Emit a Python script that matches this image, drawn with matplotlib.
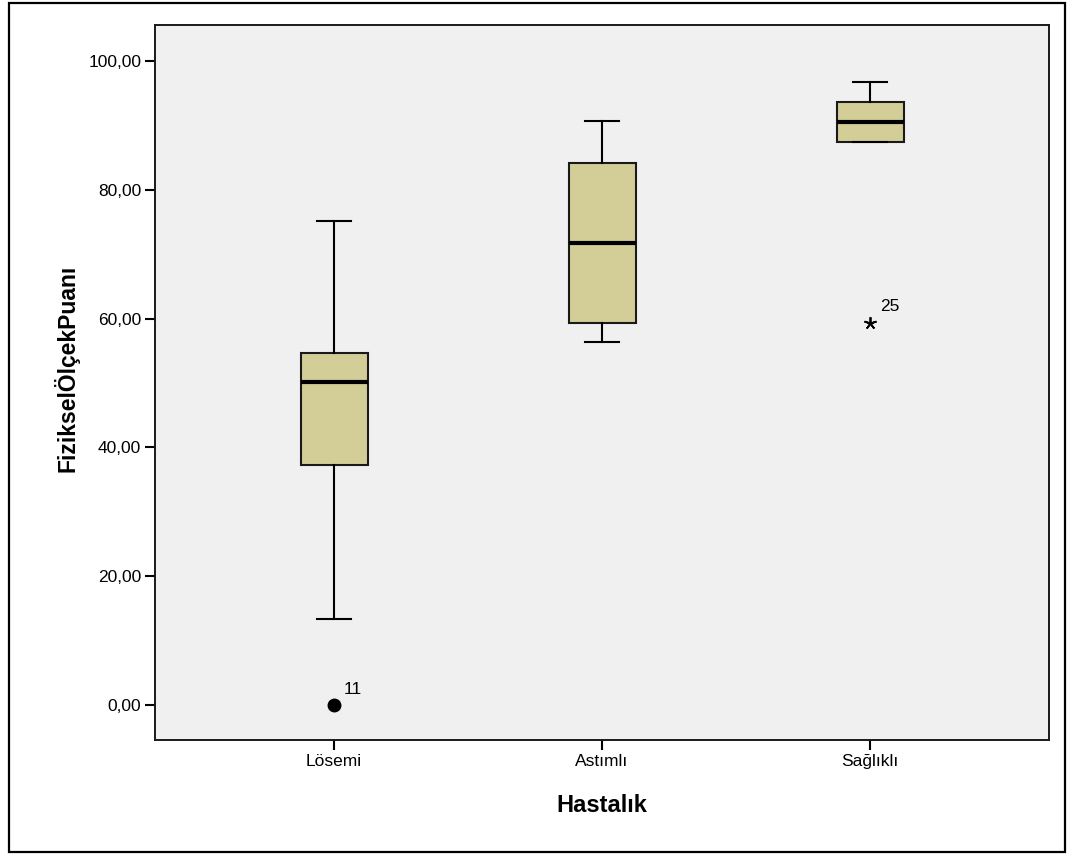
import matplotlib
matplotlib.use("Agg")
from matplotlib import pyplot as plt
from matplotlib.patches import Rectangle

plt.rcParams['font.family'] = ['Liberation Sans', 'DejaVu Sans']

# Box summaries.
groups = ['Lösemi', 'Astımlı', 'Sağlıklı']
whis_low = [13.4, 56.3, 87.5]
q1 = [37.2, 59.4, 87.5]
median = [50.1, 71.8, 90.6]
q3 = [54.7, 84.1, 93.7]
whis_high = [75.1, 90.7, 96.8]

# Outliers: group index, value, case number, marker.
out_group = [0, 2]
out_value = [0.0, 59.4]
out_label = ['11', '25']
out_marker = ['o', (5, 2, 0)]

yticks = [0, 20, 40, 60, 80, 100]

fig = plt.figure(figsize=(10.7, 8.57), dpi=100)
fig.patches.append(Rectangle((0.008, 0.006), 0.987, 0.99, transform=fig.transFigure,
                             fill=False, edgecolor='black', linewidth=1.6))
ax = fig.add_axes([0.1449, 0.1365, 0.8355, 0.8343])
ax.set_facecolor('#F0F0F0')

stats = []
for i, g in enumerate(groups):
    stats.append({'label': g, 'whislo': whis_low[i], 'q1': q1[i], 'med': median[i],
                  'q3': q3[i], 'whishi': whis_high[i], 'fliers': []})

ax.bxp(stats, positions=[1, 2, 3], widths=0.25, capwidths=0.125, patch_artist=True,
       showfliers=False,
       boxprops=dict(facecolor='#D3CE98', edgecolor='#1a1a1a', linewidth=1.5),
       medianprops=dict(color='black', linewidth=3.0),
       whiskerprops=dict(color='black', linewidth=1.5),
       capprops=dict(color='black', linewidth=1.5))

for g, v, lab, m in zip(out_group, out_value, out_label, out_marker):
    x = g + 1
    if m == 'o':
        ax.plot(x, v, marker=m, color='black', markersize=9, linestyle='none')
    else:
        ax.plot(x, v, marker=m, color='black', markersize=9, markeredgewidth=1.3,
                linestyle='none')
    ax.annotate(lab, (x, v), xytext=(7, 6), textcoords='offset points',
                fontsize=12.5, ha='left', va='bottom')

ax.set_xlim(0.332, 3.668)
ax.set_ylim(-5.43, 105.6)
ax.set_xticks([1, 2, 3])
ax.set_xticklabels(groups)
ax.set_yticks(yticks)
ax.set_yticklabels([f'{t},00' for t in yticks])
ax.tick_params(axis='both', direction='out', length=7, width=1.5, labelsize=12.5, pad=3)

for s in ax.spines.values():
    s.set_linewidth(1.4)
    s.set_color('#1a1a1a')

ax.set_xlabel('Hastalık', fontsize=17, fontweight='bold', labelpad=18)
ax.set_ylabel('FizikselÖlçekPuanı', fontsize=16.5, fontweight='bold')
ax.yaxis.set_label_coords(-0.085, 0.52)

fig.savefig('out.png', dpi=100)
